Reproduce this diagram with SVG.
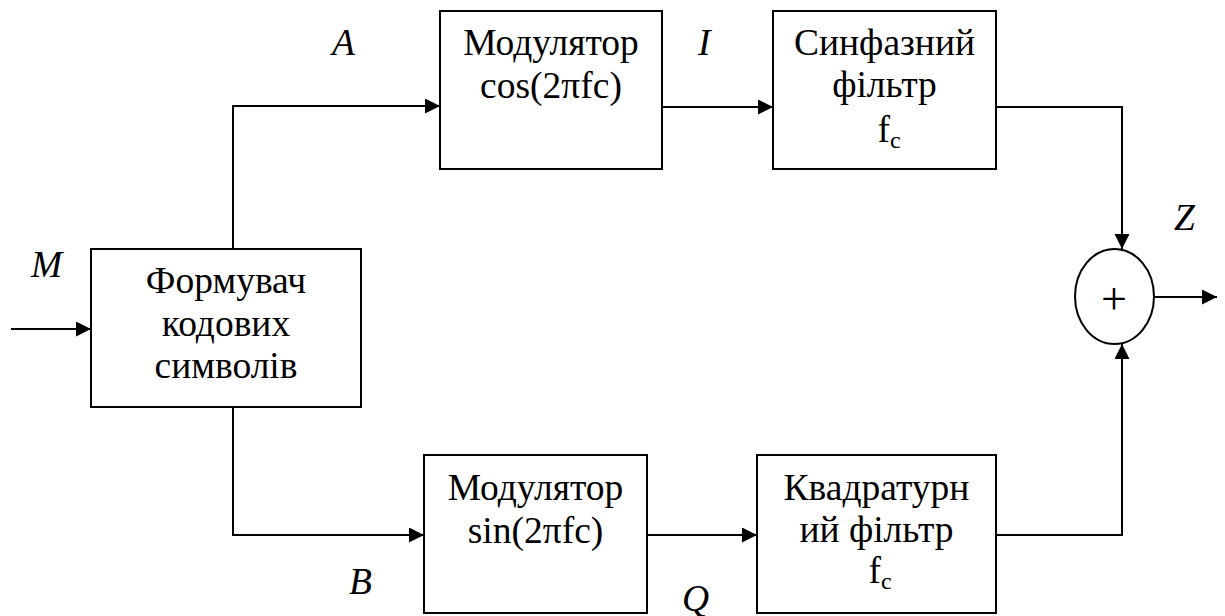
<svg xmlns="http://www.w3.org/2000/svg" width="1225" height="616" viewBox="0 0 1225 616" font-family="Liberation Serif" font-size="37.5">
  <defs>
    <marker id="arrow" markerUnits="userSpaceOnUse" markerWidth="16" markerHeight="16" refX="15" refY="7.5" orient="auto">
      <path d="M0,0 L15,7.5 L0,15 z" fill="#000"/>
    </marker>
  </defs>

  <rect width="1225" height="616" fill="#fff"/>

  <!-- connectors -->
  <g id="connectors" fill="none" stroke="#000" stroke-width="2" marker-end="url(#arrow)">
    <path d="M11,329 H91"/>
    <path d="M233,249 V106 H440"/>
    <path d="M233,407 V535 H424"/>
    <path d="M662,107 H773"/>
    <path d="M647,535 H757"/>
    <path d="M996,107 H1122 V249"/>
    <path d="M996,535 H1122 V344"/>
    <path d="M1154,297 H1217"/>
  </g>

  <!-- symbol shaper -->
  <g id="coder" text-anchor="middle">
    <rect x="91" y="249" width="270" height="158" fill="#fff" stroke="#000" stroke-width="2"/>
    <text x="226" y="293">Формувач</text>
    <text x="226" y="336">кодових</text>
    <text x="226" y="378">символів</text>
  </g>

  <!-- cosine modulator -->
  <g id="mod-cos" text-anchor="middle">
    <rect x="440" y="11" width="222" height="158" fill="#fff" stroke="#000" stroke-width="2"/>
    <text x="551" y="55">Модулятор</text>
    <text x="551" y="98">cos(2πfc)</text>
  </g>

  <!-- sine modulator -->
  <g id="mod-sin" text-anchor="middle">
    <rect x="424" y="455" width="223" height="158" fill="#fff" stroke="#000" stroke-width="2"/>
    <text x="535.5" y="500">Модулятор</text>
    <text x="535.5" y="543">sin(2πfc)</text>
  </g>

  <!-- in-phase filter -->
  <g id="filter-i" text-anchor="middle">
    <rect x="773" y="11" width="223" height="158" fill="#fff" stroke="#000" stroke-width="2"/>
    <text x="884.5" y="55">Синфазний</text>
    <text x="884.5" y="97">фільтр</text>
    <text x="889" y="142">f<tspan font-size="24" dy="6">c</tspan></text>
  </g>

  <!-- quadrature filter -->
  <g id="filter-q" text-anchor="middle">
    <rect x="757" y="455" width="239" height="158" fill="#fff" stroke="#000" stroke-width="2"/>
    <text x="876.5" y="500">Квадратурн</text>
    <text x="876.5" y="542">ий фільтр</text>
    <text x="880" y="583">f<tspan font-size="24" dy="6">c</tspan></text>
  </g>

  <!-- adder -->
  <g id="adder" text-anchor="middle">
    <ellipse cx="1114.5" cy="296.5" rx="39.5" ry="47.5" fill="#fff" stroke="#000" stroke-width="2"/>
    <text x="1114" y="314" font-size="46">+</text>
  </g>

  <!-- signal labels -->
  <g id="labels" font-style="italic">
    <text x="31" y="277">M</text>
    <text x="332" y="55">A</text>
    <text x="349" y="594">B</text>
    <text x="698" y="55">I</text>
    <text x="682" y="611">Q</text>
    <text x="1174" y="230">Z</text>
  </g>
</svg>
